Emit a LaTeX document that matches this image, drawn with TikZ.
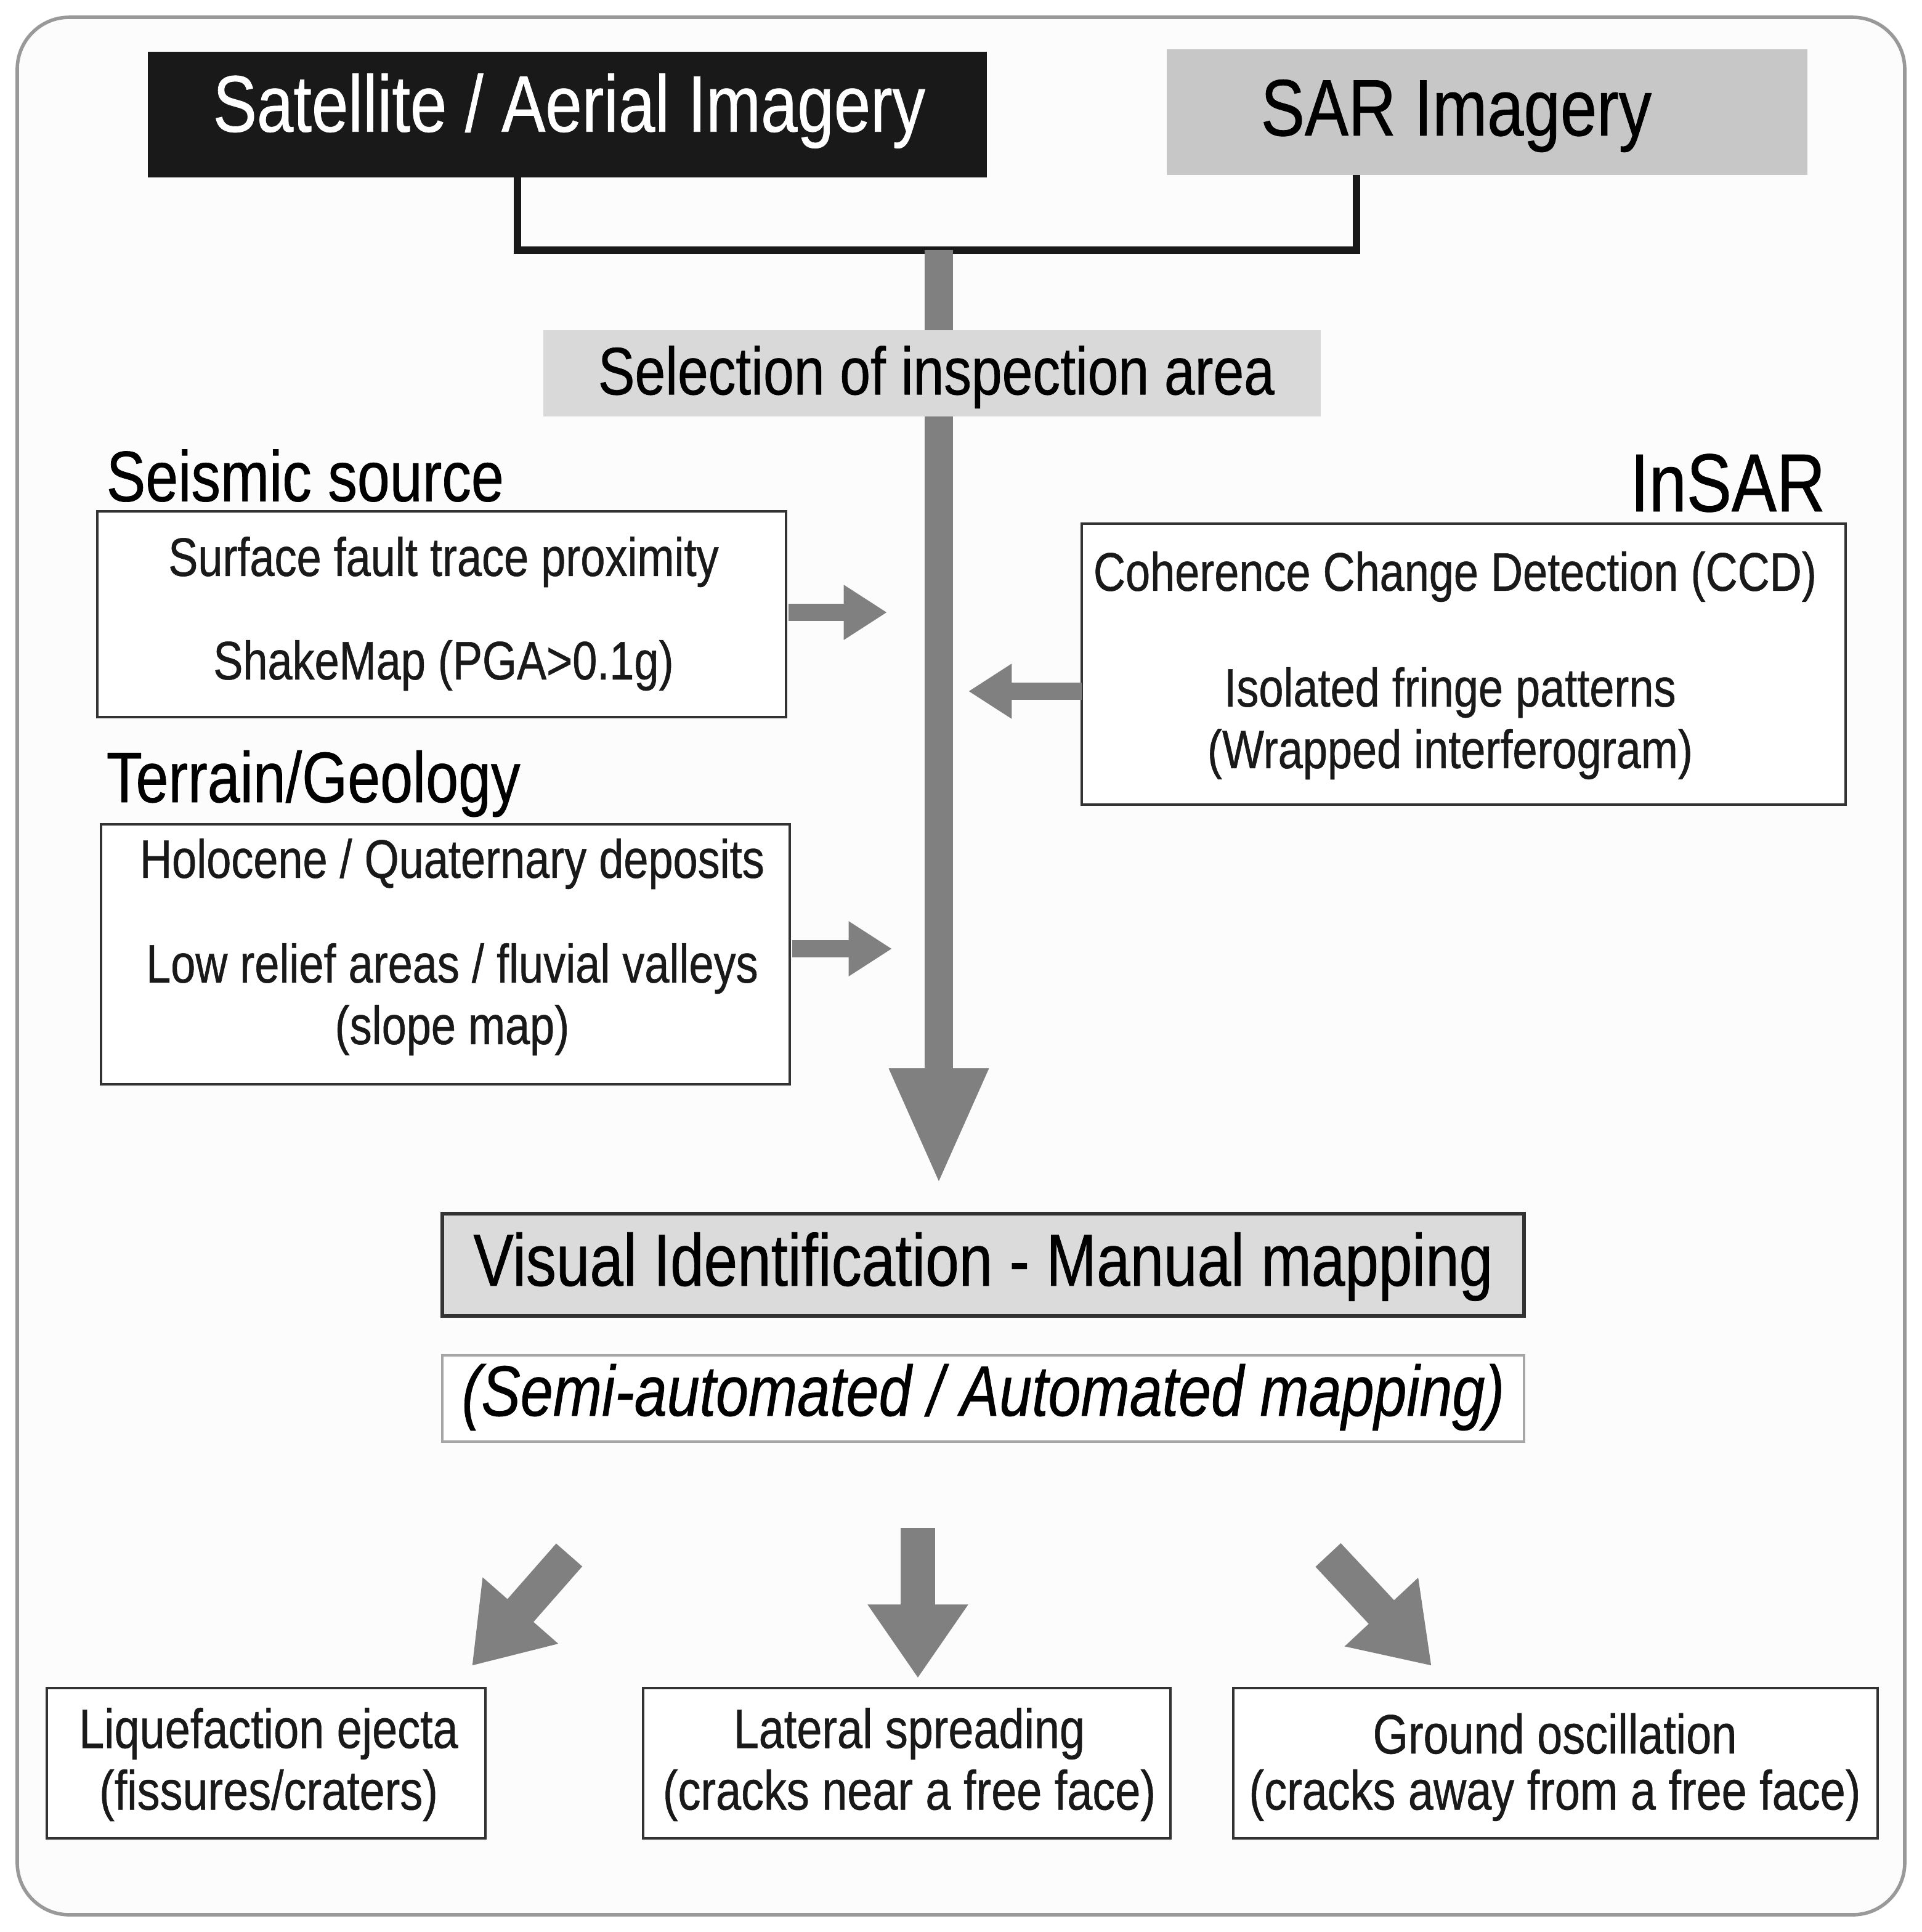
\documentclass[tikz,border=0pt]{standalone}
\usepackage{fontspec}
\setmainfont{Liberation Sans}[FakeStretch=0.82,FakeBold=0.6]
\usetikzlibrary{arrows.meta}
\begin{document}
\begin{tikzpicture}[x=0.01cm,y=-0.01cm,
  box/.style={draw=black!80,line width=0.6pt,fill=white},
  lab/.style={font=\fontsize{12.5}{15}\selectfont,text=black!90},
  blab/.style={font=\fontsize{12.8}{15}\selectfont,text=black!90},
  garrow/.style={draw=black!50,line width=4pt,-{Triangle[length=10pt,width=12pt]}},
  barrow/.style={draw=black!50,line width=8pt,-{Triangle[length=17pt,width=22pt]}}]
\useasboundingbox (0,0) rectangle (1560,1568);
\draw[black!40,line width=0.8pt,fill=black!1,rounded corners=12pt] (14,14) rectangle (1546,1554);
% top boxes
\fill[black!90] (120,42) rectangle (801,144);
\node[text=white,font=\fontsize{18.5}{21}\selectfont] (satt) at (462,90) {Satellite / Aerial Imagery};
\fill[black!22] (947,40) rectangle (1467,142);
\node[font=\fontsize{18.5}{21}\selectfont] (sar) at (1182,94) {SAR Imagery};
\coordinate (b1) at (420,144); \coordinate (b2) at (1101,142);
\draw[black!90,line width=1.6pt] (b1) -- (420,203) -- (1101,203) -- (b2);
% main arrow
\coordinate (mtop) at (762,203); \coordinate (mbot) at (762,962);
\draw[draw=black!50,line width=6.5pt,-{Triangle[length=27pt,width=21pt]}] (mtop) -- (mbot);
\fill[black!15] (441,268) rectangle (1072,338);
\node[font=\fontsize{15.5}{18}\selectfont] (sel) at (760,306) {Selection of inspection area};
% seismic
\node[anchor=west,font=\fontsize{16.5}{19}\selectfont] (ss) at (74,386) {Seismic source};
\draw[box] (79,415) rectangle (638,582);
\node[lab] (s1) at (360,456) {Surface fault trace proximity};
\node[lab] (s2) at (360,540) {ShakeMap (PGA>0.1g)};
\coordinate (a1s) at (640,497); \coordinate (a1e) at (720,497);
\draw[garrow] (a1s) -- (a1e);
% terrain
\node[anchor=west,font=\fontsize{16.5}{19}\selectfont] (tg) at (74,636) {Terrain/Geology};
\draw[box] (82,669) rectangle (641,880);
\node[lab] (t1) at (367,701) {Holocene / Quaternary deposits};
\node[lab] (t2) at (367,786) {Low relief areas / fluvial valleys};
\node[lab] (t3) at (367,836) {(slope map)};
\coordinate (a2s) at (643,770); \coordinate (a2e) at (724,770);
\draw[garrow] (a2s) -- (a2e);
% insar
\node[anchor=east,font=\fontsize{19}{22}\selectfont] (ins) at (1494,392) {InSAR};
\draw[box] (878,425) rectangle (1498,653);
\node[lab] (i1) at (1181,468) {Coherence Change Detection (CCD)};
\node[lab] (i2) at (1177,562) {Isolated fringe patterns};
\node[lab] (i3) at (1177,612) {(Wrapped interferogram)};
\coordinate (a3s) at (878,561); \coordinate (a3e) at (786,561);
\draw[garrow] (a3s) -- (a3e);
% visual
\draw[draw=black!80,line width=0.8pt,fill=black!14] (359,985) rectangle (1237,1068);
\node[font=\fontsize{17}{20}\selectfont] (vis) at (798,1028) {Visual Identification - Manual mapping};
\draw[draw=black!35,line width=0.6pt,fill=white] (359,1100) rectangle (1237,1170);
\node[font=\fontsize{16.5}{20}\selectfont\itshape] (semi) at (798,1134) {(Semi-automated / Automated mapping)};
% bottom arrows
\coordinate (d1s) at (462,1262); \coordinate (d1e) at (383,1352);
\coordinate (d2s) at (745,1240); \coordinate (d2e) at (745,1362);
\coordinate (d3s) at (1078,1262); \coordinate (d3e) at (1162,1352);
\draw[barrow] (d1s) -- (d1e);
\draw[barrow] (d2s) -- (d2e);
\draw[barrow] (d3s) -- (d3e);
% bottom boxes
\draw[box] (38,1370) rectangle (394,1492);
\node[blab] (l1) at (218,1407) {Liquefaction ejecta};
\node[blab] (l2) at (218,1457) {(fissures/craters)};
\draw[box] (522,1370) rectangle (950,1492);
\node[blab] (m1) at (738,1407) {Lateral spreading};
\node[blab] (m2) at (738,1457) {(cracks near a free face)};
\draw[box] (1001,1370) rectangle (1524,1492);
\node[blab] (r1) at (1262,1407) {Ground oscillation};
\node[blab] (r2) at (1262,1457) {(cracks away from a free face)};
\end{tikzpicture}
\end{document}
